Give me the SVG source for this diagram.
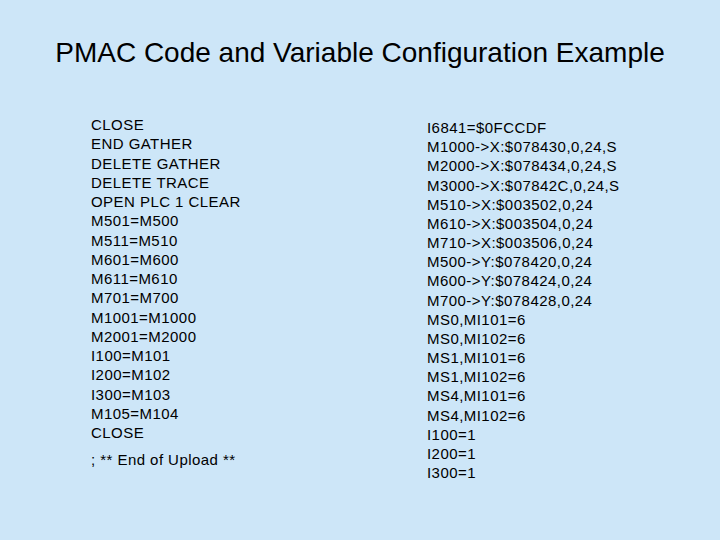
<svg xmlns="http://www.w3.org/2000/svg" width="720" height="540" viewBox="0 0 720 540">
<style>
text{font-family:"Liberation Sans",Arial,sans-serif;fill:#000}
.b{font-size:15px;letter-spacing:0.45px}
.t{font-size:28px}
</style>
<rect width="720" height="540" fill="#cde6f8"/>
<text class="t" x="360" y="62" text-anchor="middle">PMAC Code and Variable Configuration Example</text>
<g id="left" class="b">
<text x="91" y="130">CLOSE</text>
<text x="91" y="149.3">END GATHER</text>
<text x="91" y="168.5">DELETE GATHER</text>
<text x="91" y="187.8">DELETE TRACE</text>
<text x="91" y="207">OPEN PLC 1 CLEAR</text>
<text x="91" y="226.3">M501=M500</text>
<text x="91" y="245.5">M511=M510</text>
<text x="91" y="264.8">M601=M600</text>
<text x="91" y="284">M611=M610</text>
<text x="91" y="303.3">M701=M700</text>
<text x="91" y="322.5">M1001=M1000</text>
<text x="91" y="341.8">M2001=M2000</text>
<text x="91" y="361">I100=M101</text>
<text x="91" y="380.3">I200=M102</text>
<text x="91" y="399.5">I300=M103</text>
<text x="91" y="418.8">M105=M104</text>
<text x="91" y="438">CLOSE</text>
<text x="91" y="465">; ** End of Upload **</text>
</g>
<g id="right" class="b">
<text x="427" y="133">I6841=$0FCCDF</text>
<text x="427" y="152.2">M1000-&gt;X:$078430,0,24,S</text>
<text x="427" y="171.3">M2000-&gt;X:$078434,0,24,S</text>
<text x="427" y="190.5">M3000-&gt;X:$07842C,0,24,S</text>
<text x="427" y="209.7">M510-&gt;X:$003502,0,24</text>
<text x="427" y="228.8">M610-&gt;X:$003504,0,24</text>
<text x="427" y="248">M710-&gt;X:$003506,0,24</text>
<text x="427" y="267.2">M500-&gt;Y:$078420,0,24</text>
<text x="427" y="286.4">M600-&gt;Y:$078424,0,24</text>
<text x="427" y="305.5">M700-&gt;Y:$078428,0,24</text>
<text x="427" y="324.7">MS0,MI101=6</text>
<text x="427" y="343.9">MS0,MI102=6</text>
<text x="427" y="363">MS1,MI101=6</text>
<text x="427" y="382.2">MS1,MI102=6</text>
<text x="427" y="401.4">MS4,MI101=6</text>
<text x="427" y="420.5">MS4,MI102=6</text>
<text x="427" y="439.7">I100=1</text>
<text x="427" y="458.9">I200=1</text>
<text x="427" y="478">I300=1</text>
</g>
</svg>
